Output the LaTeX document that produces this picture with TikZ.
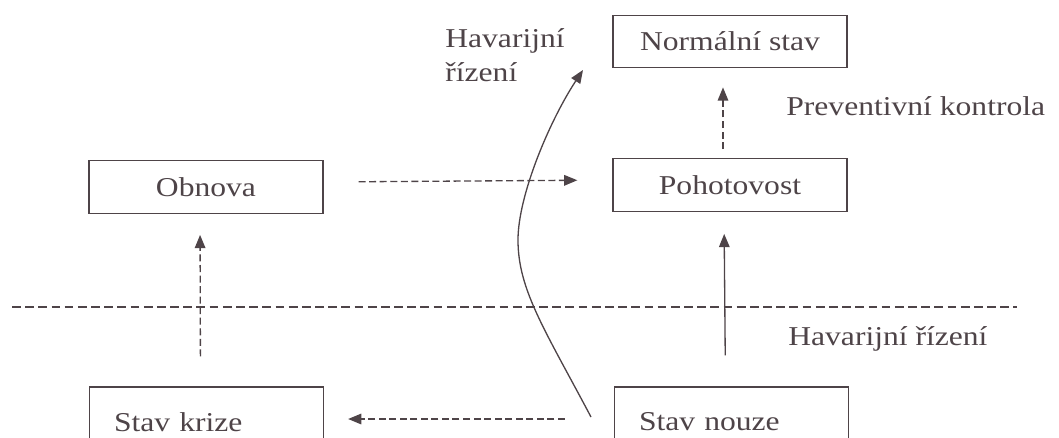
\documentclass[tikz,border=0pt]{standalone}
\usepackage{fontspec}
\setmainfont{Liberation Serif}[FakeStretch=1.16]
\usetikzlibrary{arrows.meta}
\definecolor{inkgray}{RGB}{78,68,72}

\begin{document}
\begin{tikzpicture}[x=0.02cm, y=-0.02cm,
    state/.style={draw=inkgray, line width=0.75pt, minimum width=4.68cm, minimum height=1.05cm, inner sep=0pt, text=inkgray, font=\fontsize{15.5}{19.3}\selectfont},
    lowstate/.style={state, minimum height=1.4cm, text width=3.7cm, inner xsep=0.49cm, align=left},
    flow/.style={draw=inkgray, line width=0.75pt, -{Triangle[length=7.5pt,width=6pt]}},
    dashflow/.style={flow, dash pattern=on 4pt off 2pt},
    divider/.style={draw=inkgray, line width=0.6pt, dash pattern=on 5pt off 2.5pt},
    caption/.style={text=inkgray, inner sep=0pt, font=\fontsize{15.5}{19.3}\selectfont}]
    \path[use as bounding box, clip] (0,0) rectangle (1059,437);
    % boxes:
    \node[state] (normal) at (730,41.5) {Normální stav};
    \node[state] (pohotovost) at (730,185) {Pohotovost};
    \node[state] (obnova) at (206,187) {Obnova};
    \node[lowstate] (krize) at (206.5,422) {Stav krize};
    \node[lowstate] (nouze) at (731.5,422) {Stav nouze};
    % divider:
    \coordinate (divleft) at (12,307);
    \coordinate (divright) at (1017,307);
    \draw[divider] (divleft) -- (divright);
    % arrows:
    \draw[dashflow, shorten <=0.7cm, shorten >=0.7cm] ([yshift=0.1cm]obnova.east) -- ([yshift=0.1cm]pohotovost.west);
    \draw[dashflow, shorten <=0.18cm, shorten >=0.38cm] ([xshift=-0.14cm]pohotovost.north) -- ([xshift=-0.14cm]normal.south);
    \draw[dashflow, shorten <=0.6cm, shorten >=0.42cm] ([xshift=-0.12cm]krize.north) -- ([xshift=-0.12cm]obnova.south);
    \draw[flow, shorten <=0.62cm, shorten >=0.44cm] ([xshift=-0.12cm]nouze.north) -- ([xshift=-0.12cm]pohotovost.south);
    \draw[dashflow, shorten <=0.98cm, shorten >=0.48cm] ([yshift=0.06cm]nouze.west) -- ([yshift=0.06cm]krize.east);
    \coordinate (crossstart) at (591,417);
    \coordinate (crossend) at (583,70);
    \draw[flow] (crossstart) .. controls (545,330) and (518,290) .. (518,240) .. controls (518,195) and (550,120) .. (crossend);
    % labels:
    \node[caption, anchor=west, align=left] (havtop) at (445,55) {Havarijní\\řízení};
    \node[caption, anchor=west] (prevlabel) at (786,106) {Preventivní kontrola};
    \node[caption, anchor=west] (havbottom) at (788,339) {Havarijní řízení};
\end{tikzpicture}
\end{document}
